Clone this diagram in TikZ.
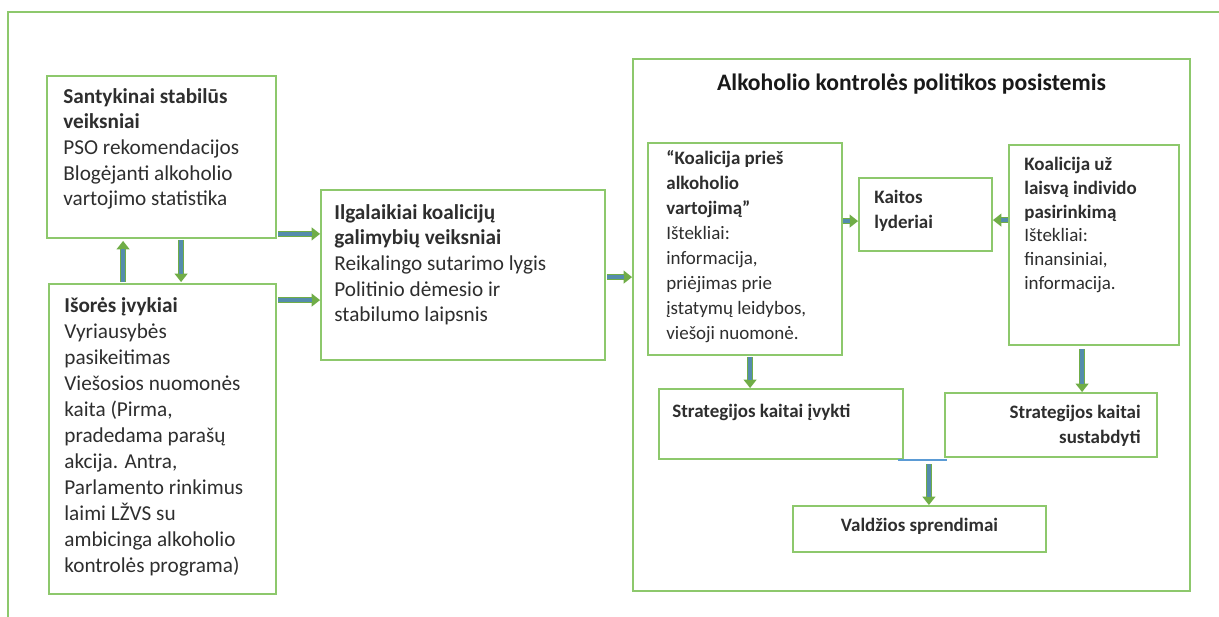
\documentclass[tikz,border=0pt]{standalone}
\usepackage{fontspec}
\setmainfont{Carlito}
\usetikzlibrary{arrows.meta,fit}
\definecolor{boxgreen}{RGB}{141,200,108}
\definecolor{argreen}{RGB}{112,173,71}
\definecolor{arblue}{RGB}{84,140,172}
\definecolor{linkblue}{RGB}{91,155,213}

\begin{document}
\begin{tikzpicture}[
        x=0.025cm, y=-0.025cm,
        box/.style={draw=boxgreen, line width=1.3pt, inner sep=0pt},
        txt/.style={inner sep=0pt, align=left, text=black!82,
            font=\fontsize{13.5}{17.8}\selectfont},
        bigtxt/.style={txt, font=\fontsize{15.1}{18.2}\selectfont},
        ar/.style={-{Triangle[length=6pt,width=9pt]}, draw=argreen, line width=4.2pt,
            postaction={draw=arblue, line width=2.4pt, shorten >=5.5pt, -}},
        link/.style={draw=linkblue, line width=1.2pt},
    ]
    \useasboundingbox (0,0) rectangle (1219,617);
    \draw[box] (1219,12) -| (8,617);

    % left column
    \node[box, fit={(47,76) (276,238)}] (stab) {};
    \node[bigtxt, anchor=north west] (stabtxt) at ([shift={(17,13)}]stab.north west)
        {\textbf{Santykinai stabilūs}\\ \textbf{veiksniai}\\ PSO rekomendacijos\\
         Blogėjanti alkoholio\\ vartojimo statistika};
    \node[box, fit={(49,284) (276,594)}] (isor) {};
    \node[bigtxt, anchor=north west, font=\fontsize{15.1}{18.5}\selectfont] (isortxt)
        at ([shift={(16,14)}]isor.north west)
        {\textbf{Išorės įvykiai}\\ Vyriausybės\\ pasikeitimas\\ Viešosios nuomonės\\
         kaita (Pirma,\\ pradedama parašų\\ akcija. Antra,\\ Parlamento rinkimus\\
         laimi LŽVS su\\ ambicinga alkoholio\\ kontrolės programa)};

    % middle
    \node[box, fit={(321,190) (605,360)}] (ilg) {};
    \node[bigtxt, anchor=north west] (ilgtxt) at ([shift={(14,15)}]ilg.north west)
        {\textbf{Ilgalaikiai koalicijų}\\ \textbf{galimybių veiksniai}\\
         Reikalingo sutarimo lygis\\ Politinio dėmesio ir\\ stabilumo laipsnis};

    % subsystem
    \node[box, fit={(633,59) (1190,591)}] (sub) {};
    \node[txt, anchor=north, text=black!90, font=\fontsize{16.8}{19}\selectfont\bfseries]
        (subtxt) at ([shift={(0,16)}]sub.north) {Alkoholio kontrolės politikos posistemis};

    \node[box, fit={(648,143) (842,355)}] (pries) {};
    \node[txt, anchor=north west] (priestxt) at ([shift={(19,8)}]pries.north west)
        {\textbf{“Koalicija prieš}\\ \textbf{alkoholio}\\ \textbf{vartojimą”}\\ Ištekliai:\\
         informacija,\\ priėjimas prie\\ įstatymų leidybos,\\ viešoji nuomonė.};
    \node[box, fit={(859,178) (992,251)}] (lyd) {};
    \node[txt, anchor=north west] (lydtxt) at ([shift={(16,13)}]lyd.north west)
        {\textbf{Kaitos}\\ \textbf{lyderiai}};
    \node[box, fit={(1009,145) (1179,345)}] (uz) {};
    \node[txt, anchor=north west, font=\fontsize{13.5}{16.9}\selectfont] (uztxt)
        at ([shift={(16,13)}]uz.north west)
        {\textbf{Koalicija už}\\ \textbf{laisvą individo}\\ \textbf{pasirinkimą}\\
         Ištekliai:\\ finansiniai,\\ informacija.};

    \node[box, fit={(659,389) (903,459)}] (strat1) {};
    \node[txt, anchor=north west] (strat1txt) at ([shift={(14,16)}]strat1.north west)
        {\textbf{Strategijos kaitai įvykti}};
    \node[box, fit={(945,393) (1157,457)}] (strat2) {};
    \node[txt, anchor=north east, align=right] (strat2txt) at ([shift={(-17,13)}]strat2.north east)
        {\textbf{Strategijos kaitai}\\ \textbf{sustabdyti}};
    \node[box, fit={(793,506) (1046,552)}] (valdz) {};
    \node[txt] (valdztxt) at ([shift={(0,-3)}]valdz.center) {\textbf{Valdžios sprendimai}};

    % arrows
    \coordinate (u1) at ([shift={(75,-1)}]isor.north west);
    \draw[ar] (u1) -- ([shift={(0,2)}]u1 |- stab.south);
    \coordinate (d1) at ([shift={(135,1)}]stab.south west);
    \draw[ar] (d1) -- ([shift={(0,-1)}]d1 |- isor.north);
    \coordinate (a1) at ([shift={(1,-5)}]stab.south east);
    \draw[ar] (a1) -- (a1 -| ilg.west);
    \coordinate (a2) at ([shift={(1,17)}]isor.north east);
    \draw[ar] (a2) -- (a2 -| ilg.west);
    \coordinate (a3) at ([shift={(1,88)}]ilg.north east);
    \draw[ar] (a3) -- (a3 -| sub.west);
    \coordinate (e1) at ([shift={(0,44)}]lyd.north west);
    \draw[ar] (e1 -| pries.east) -- (e1);
    \coordinate (e2) at ([shift={(0,43)}]lyd.north east);
    \draw[ar] (e2 -| uz.west) -- (e2);
    \coordinate (g1) at ([shift={(103,1)}]pries.south west);
    \draw[ar] (g1) -- (g1 |- strat1.north);
    \coordinate (g2) at ([shift={(74,3)}]uz.south west);
    \draw[ar] (g2) -- (g2 |- strat2.north);
    \coordinate (j1) at ([shift={(-6,0)}]strat1.south east);
    \coordinate (j2) at (j1 -| strat2.south west);
    \draw[link] (j1) -- ([shift={(3,0)}]j2);
    \coordinate (j3) at ([shift={(31,4)}]j1);
    \draw[ar] (j3) -- (j3 |- valdz.north);
\end{tikzpicture}
\end{document}
